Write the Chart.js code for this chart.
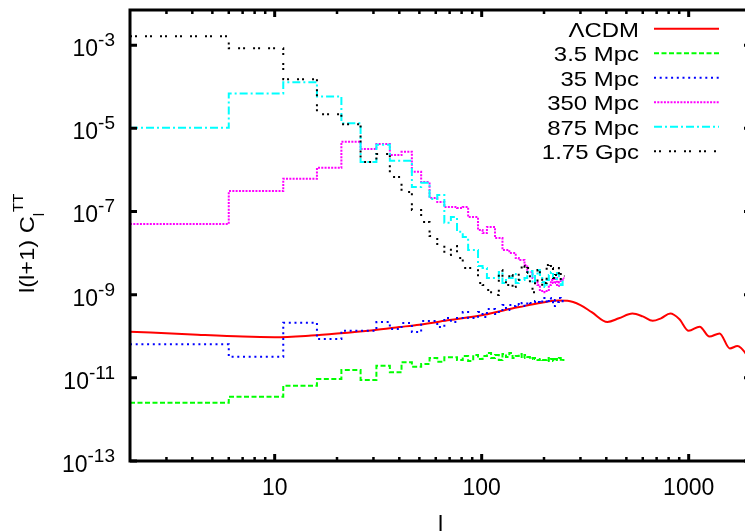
<!DOCTYPE html>
<html>
<head>
<meta charset="utf-8">
<title>CMB TT spectra</title>
<script src="https://cdn.jsdelivr.net/npm/chart.js@4.4.0/dist/chart.umd.min.js"></script>
<style>
    html, body { margin: 0; padding: 0; overflow: hidden; background: #ffffff; }
    #wrap { width: 754px; height: 531px; }
</style>
</head>
<body>
<div id="wrap"><canvas id="cl-chart" width="754" height="531"></canvas></div>
<script>

// multipole bin edges (start of each bin, last value closes the final bin)
var ellEdges = [2, 6, 11, 16, 21, 26, 31, 36, 41, 46, 51, 56, 61, 66, 71, 76, 81, 86, 91, 96,
    101, 106, 111, 116, 121, 126, 131, 136, 141, 146, 151, 156, 161, 166, 171, 176, 181, 186, 191, 196,
    201, 206, 211, 216, 221, 226, 231, 236, 241, 246, 251];

var cl3p5Mpc = [2.52e-12, 3.51e-12, 6.46e-12, 9.35e-12, 1.54e-11, 8.85e-12, 1.95e-11, 1.36e-11, 2.36e-11, 1.85e-11,
    2.15e-11, 2.99e-11, 2.44e-11, 3.11e-11, 3.11e-11, 2.68e-11, 3.34e-11, 2.54e-11, 3.53e-11, 2.83e-11,
    3.34e-11, 3.94e-11, 2.99e-11, 3.53e-11, 2.68e-11, 3.73e-11, 3.16e-11, 3.94e-11, 2.99e-11, 3.34e-11,
    3.73e-11, 2.99e-11, 3.53e-11, 3.16e-11, 2.83e-11, 2.99e-11, 2.83e-11, 2.68e-11, 2.83e-11, 2.68e-11,
    2.68e-11, 2.99e-11, 2.54e-11, 2.83e-11, 2.54e-11, 2.83e-11, 2.68e-11, 2.99e-11, 2.54e-11, 2.68e-11];

var cl35Mpc = [6.38e-11, 3.21e-11, 2.11e-10, 8.57e-11, 1.36e-10, 1.36e-10, 2.19e-10, 1.49e-10, 2.07e-10, 1.26e-10,
    2.32e-10, 2.32e-10, 1.66e-10, 2.74e-10, 2.19e-10, 2.74e-10, 3.82e-10, 2.74e-10, 2.74e-10, 3.82e-10,
    2.90e-10, 4.51e-10, 4.51e-10, 3.42e-10, 4.26e-10, 5.62e-10, 4.26e-10, 5.62e-10, 5.32e-10, 5.94e-10,
    5.62e-10, 6.28e-10, 5.32e-10, 6.64e-10, 6.28e-10, 6.64e-10, 7.02e-10, 6.64e-10, 6.28e-10, 8.28e-10,
    7.41e-10, 6.28e-10, 8.28e-10, 6.64e-10, 5.32e-10, 7.41e-10, 6.64e-10, 8.28e-10, 7.02e-10, 6.28e-10];

var cl350Mpc = [4.98e-8, 3.09e-7, 6.11e-7, 1.12e-6, 4.73e-6, 3.16e-6, 4.17e-6, 2.27e-6, 2.72e-6, 9.0e-7,
    5.09e-7, 2.10e-7, 1.68e-7, 1.28e-7, 1.28e-7, 1.21e-7, 1.28e-7, 7.33e-8, 7.33e-8, 3.57e-8,
    3.03e-8, 4.22e-8, 4.22e-8, 2.30e-8, 2.30e-8, 1.18e-8, 1.18e-8, 1.0e-8, 1.0e-8, 7.58e-9,
    6.79e-9, 6.79e-9, 5.15e-9, 3.49e-9, 3.49e-9, 2.51e-9, 2.01e-9, 1.70e-9, 1.29e-9, 1.22e-9,
    1.15e-9, 1.29e-9, 1.70e-9, 2.24e-9, 1.90e-9, 2.51e-9, 1.61e-9, 2.01e-9, 2.24e-9, 2.51e-9];

var cl875Mpc = [1.03e-5, 6.90e-5, 1.29e-4, 5.85e-5, 1.33e-5, 1.54e-6, 4.01e-6, 1.66e-6, 1.66e-6, 3.86e-7,
    4.90e-7, 1.99e-7, 2.48e-7, 5.35e-8, 7.33e-8, 3.25e-8, 2.42e-8, 1.18e-8, 1.18e-8, 4.87e-9,
    4.36e-9, 2.51e-9, 2.51e-9, 2.51e-9, 3.49e-9, 1.90e-9, 2.51e-9, 2.51e-9, 3.13e-9, 1.90e-9,
    2.24e-9, 2.24e-9, 2.51e-9, 3.49e-9, 3.69e-9, 1.90e-9, 2.80e-9, 3.90e-9, 2.96e-9, 2.01e-9,
    1.52e-9, 2.24e-9, 2.96e-9, 3.49e-9, 2.51e-9, 2.24e-9, 3.30e-9, 2.51e-9, 1.70e-9, 2.24e-9];

var cl1p75Gpc = [1.64e-3, 8.47e-4, 1.52e-4, 2.19e-5, 1.26e-5, 1.54e-6, 2.40e-6, 6.71e-7, 2.93e-7, 1.08e-7,
    5.56e-8, 2.56e-8, 1.56e-8, 8.95e-9, 1.47e-8, 7.58e-9, 4.36e-9, 4.36e-9, 4.36e-9, 1.90e-9,
    1.70e-9, 1.29e-9, 9.78e-10, 9.78e-10, 3.90e-9, 2.24e-9, 1.70e-9, 2.96e-9, 1.52e-9, 2.24e-9,
    3.90e-9, 4.87e-9, 3.30e-9, 4.36e-9, 1.70e-9, 1.15e-9, 2.01e-9, 3.90e-9, 2.96e-9, 1.52e-9,
    1.90e-9, 5.15e-9, 6.08e-9, 4.36e-9, 2.51e-9, 2.96e-9, 4.36e-9, 2.24e-9, 3.49e-9, 2.80e-9];

// LambdaCDM curve
var lcdmEll = [2, 4, 7, 10, 15, 20, 30, 40, 50, 70, 100, 130, 160, 200, 235, 260, 300, 340, 405, 460,
    535, 600, 670, 735, 815, 900, 1000, 1130, 1260, 1410, 1580, 1720, 2000];
var lcdmCl = [1.29e-10, 1.10e-10, 9.8e-11, 9.5e-11, 1.04e-10, 1.16e-10, 1.40e-10, 1.66e-10, 1.90e-10, 2.45e-10,
    3.2e-10, 4.3e-10, 5.3e-10, 6.6e-10, 7.2e-10, 7.1e-10, 5.6e-10, 3.8e-10, 2.2e-10, 2.7e-10,
    3.5e-10, 3.0e-10, 2.35e-10, 2.7e-10, 3.5e-10, 2.6e-10, 1.35e-10, 1.7e-10, 9.8e-11, 1.17e-10,
    5.1e-11, 5.8e-11, 2.6e-11];

var seriesNames = ["\u039BCDM", "3.5 Mpc", "35 Mpc", "350 Mpc", "875 Mpc", "1.75 Gpc"];
var seriesColors = ["#ff0000", "#00ff00", "#0000ff", "#ff00ff", "#00ffff", "#000000"];
var seriesDashes = [[], [5, 2.5], [2, 3.7], [2, 1.3], [8, 3, 2, 3], [2, 3, 2, 8]];

var xTickValues = [10, 100, 1000];
var xTickLabels = ["10", "100", "1000"];
var yTickExps = [-3, -5, -7, -9, -11, -13];
var yTickLabels = ["-3", "-5", "-7", "-9", "-11", "-13"];

var fontFamily = "'Liberation Sans', Arial, sans-serif";

function stepPoints(values) {
    var pts = values.map(function (v, i) {
        return { x: ellEdges[i], y: v };
    });
    pts.push({ x: ellEdges[values.length], y: values[values.length - 1] });
    return pts;
}

function stretchedText(ctx, text, x, y, align, sx) {
    ctx.save();
    ctx.translate(x, y);
    ctx.scale(sx, 1);
    ctx.textAlign = align;
    ctx.fillText(text, 0, 0);
    ctx.restore();
}

var gnuplotFrame = {
    id: "gnuplotFrame",
    afterDraw: function (chart) {
        var ctx = chart.ctx;
        var area = chart.chartArea;
        var xs = chart.scales.x;
        var ys = chart.scales.y;

        ctx.save();
        ctx.strokeStyle = "#000000";
        ctx.fillStyle = "#000000";
        ctx.lineWidth = 3;
        ctx.setLineDash([]);
        ctx.strokeRect(area.left, area.top, area.right - area.left, area.bottom - area.top);

        // y ticks, left and mirrored right
        yTickExps.forEach(function (e) {
            var py = ys.getPixelForValue(Math.pow(10, e));
            ctx.beginPath();
            ctx.moveTo(area.left, py);
            ctx.lineTo(area.left + 7, py);
            ctx.moveTo(area.right, py);
            ctx.lineTo(area.right - 7, py);
            ctx.stroke();
        });

        // x major + minor ticks, bottom and mirrored top
        for (var dec = 1; dec <= 1000; dec *= 10) {
            for (var m = 1; m <= 9; m++) {
                var v = m * dec;
                if (v <= xs.min || v >= xs.max) continue;
                var px = xs.getPixelForValue(v);
                var len = (m === 1) ? 7 : 4;
                ctx.lineWidth = (m === 1) ? 3 : 2.5;
                ctx.beginPath();
                ctx.moveTo(px, area.bottom);
                ctx.lineTo(px, area.bottom - len);
                ctx.moveTo(px, area.top);
                ctx.lineTo(px, area.top + len);
                ctx.stroke();
            }
        }

        // y tick labels 10^n
        yTickExps.forEach(function (e, i) {
            var py = ys.getPixelForValue(Math.pow(10, e));
            ctx.font = "19px " + fontFamily;
            var wSup = ctx.measureText(yTickLabels[i]).width;
            ctx.font = "23px " + fontFamily;
            var wBase = ctx.measureText("10").width;
            var bx = 115 - wSup - wBase;
            ctx.textAlign = "left";
            ctx.fillText("10", bx, py + 11);
            ctx.font = "19px " + fontFamily;
            ctx.fillText(yTickLabels[i], bx + wBase, py + 1);
        });

        // x tick labels
        ctx.font = "23px " + fontFamily;
        ctx.textAlign = "center";
        xTickValues.forEach(function (v, i) {
            ctx.fillText(xTickLabels[i], xs.getPixelForValue(v), 495);
        });

        // x axis title
        ctx.fillText("l", (area.left + area.right) / 2, 533);

        // y axis title: l(l+1) C_l^TT
        ctx.save();
        ctx.translate(34, 293);
        ctx.rotate(-Math.PI / 2);
        ctx.textAlign = "left";
        ctx.font = "20px " + fontFamily;
        var mainText = "l(l+1) C";
        var wMain = ctx.measureText(mainText).width * 1.18;
        stretchedText(ctx, mainText, 0, 0, "left", 1.18);
        ctx.font = "15px " + fontFamily;
        stretchedText(ctx, "l", wMain, 10, "left", 1.0);
        var wSub = ctx.measureText("l").width;
        stretchedText(ctx, "TT", wMain + wSub + 1, -11, "left", 1.0);
        ctx.restore();

        // key
        ctx.font = "21px " + fontFamily;
        seriesNames.forEach(function (name, i) {
            var base = 36.7 + i * 24.5;
            ctx.fillStyle = "#000000";
            stretchedText(ctx, name, 639, base, "right", 1.14);
            ctx.strokeStyle = seriesColors[i];
            ctx.lineWidth = 2;
            ctx.setLineDash(seriesDashes[i]);
            ctx.beginPath();
            ctx.moveTo(654, base - 8);
            ctx.lineTo(719, base - 8);
            ctx.stroke();
        });

        ctx.restore();
    }
};

function binnedDataset(idx, values) {
    return {
        label: seriesNames[idx],
        data: stepPoints(values),
        borderColor: seriesColors[idx],
        borderWidth: 2,
        borderDash: seriesDashes[idx],
        stepped: true,
        pointRadius: 0,
        fill: false,
        order: 6 - idx
    };
}

function drawSpectra() {

    var lcdmPoints = lcdmEll.map(function (l, i) {
        return { x: l, y: lcdmCl[i] };
    });

    new Chart(
        document.getElementById("cl-chart"),
        {
            type: "line",
            data: {
                datasets: [
                    {
                        label: seriesNames[0],
                        data: lcdmPoints,
                        borderColor: seriesColors[0],
                        borderWidth: 2,
                        cubicInterpolationMode: "monotone",
                        pointRadius: 0,
                        fill: false,
                        order: 6
                    },
                    binnedDataset(1, cl3p5Mpc),
                    binnedDataset(2, cl35Mpc),
                    binnedDataset(3, cl350Mpc),
                    binnedDataset(4, cl875Mpc),
                    binnedDataset(5, cl1p75Gpc)
                ]
            },
            options: {
                responsive: false,
                animation: false,
                devicePixelRatio: 1,
                layout: {
                    padding: { top: 10, right: 3, bottom: 0, left: 0 }
                },
                scales: {
                    x: {
                        type: "logarithmic",
                        min: 2,
                        max: 2000,
                        grid: { display: false },
                        border: { display: false },
                        ticks: { display: false },
                        afterFit: function (scale) { scale.height = 70; }
                    },
                    y: {
                        type: "logarithmic",
                        min: 1e-13,
                        max: 7e-3,
                        grid: { display: false },
                        border: { display: false },
                        ticks: { display: false },
                        afterFit: function (scale) { scale.width = 130; }
                    }
                },
                plugins: {
                    legend: { display: false },
                    tooltip: { enabled: false }
                }
            },
            plugins: [gnuplotFrame]
        }
    );

}

drawSpectra();
</script>
